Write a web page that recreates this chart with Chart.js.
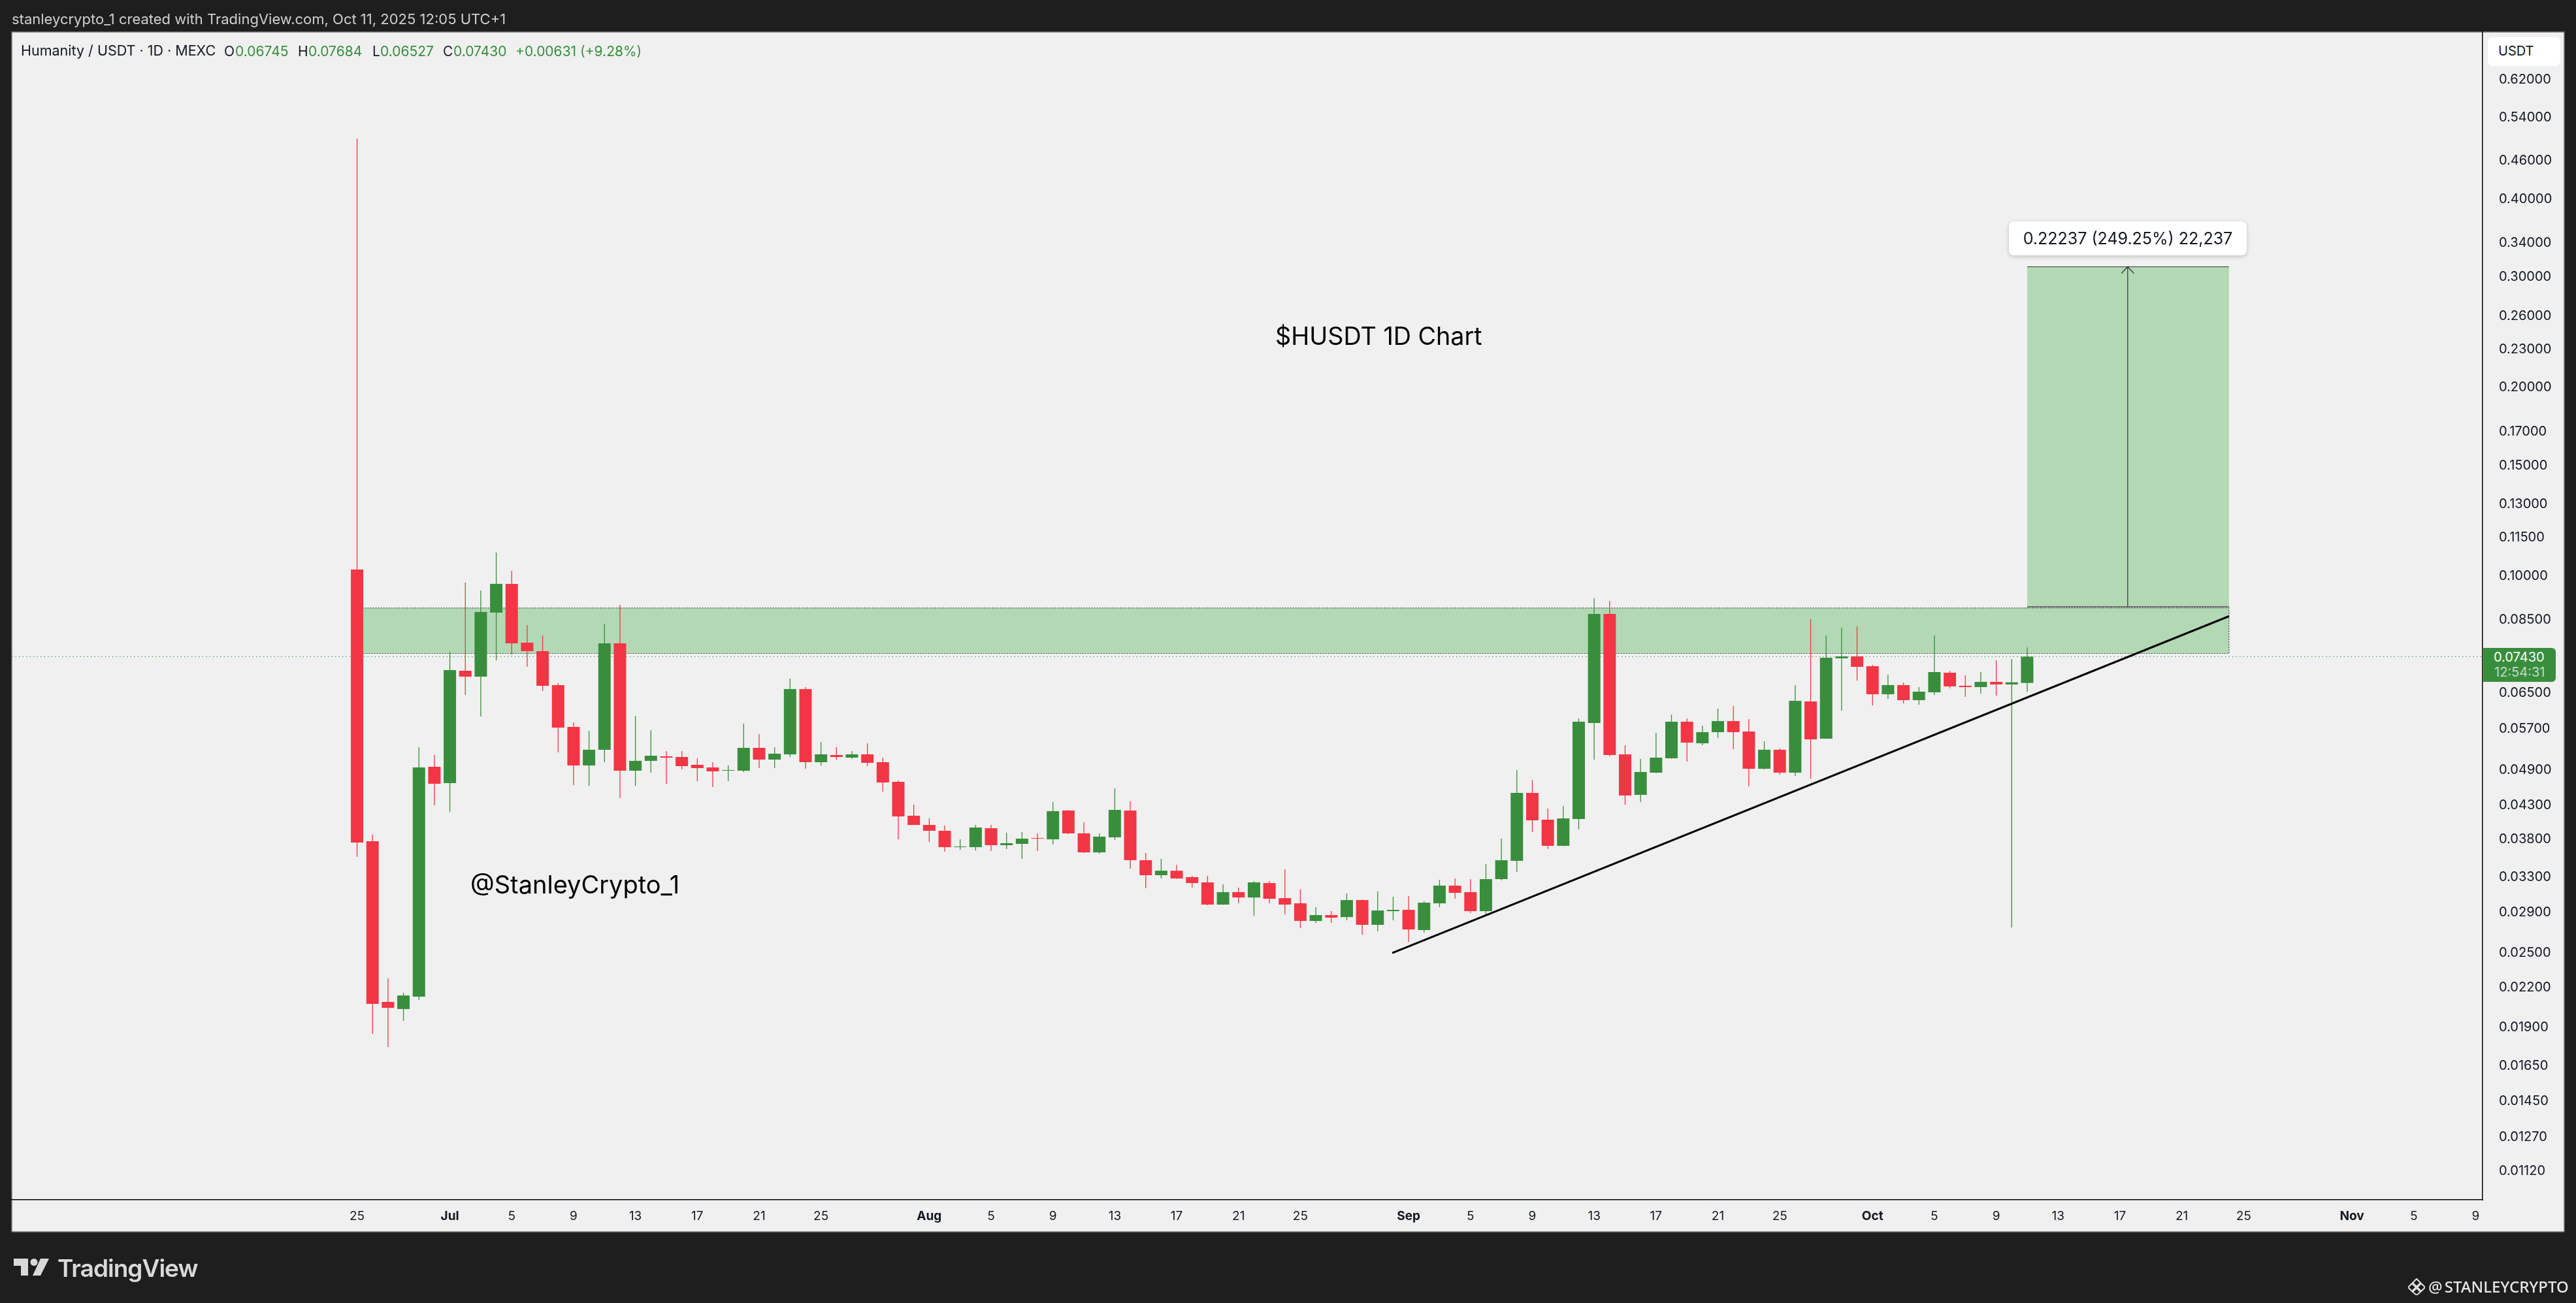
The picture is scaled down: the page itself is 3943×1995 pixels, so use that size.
<!DOCTYPE html>
<html>
<head>
<meta charset="utf-8">
<title>$HUSDT 1D Chart</title>
<script src="https://cdn.jsdelivr.net/npm/chart.js@4/dist/chart.umd.min.js"></script>
<style>
  html, body { margin: 0; padding: 0; background: #1e1e1e; width: 3943px; height: 1995px; overflow: hidden; }
  canvas { position: absolute; left: 0; top: 0; }
  .t { position: absolute; white-space: nowrap; font-family: Inter, sans-serif; line-height: 1; transform: translateY(-50%); color: #131722; }
  .g { color: #388e3c; }
  .box { position: absolute; box-sizing: border-box; }
</style>
</head>
<body>
<canvas id="myChart" width="3943" height="1995"></canvas>

<div class="t" style="left:18px;top:29px;font-size:22px;color:#cfcfcf">stanleycrypto_1 created with TradingView.com, Oct 11, 2025 12:05 UTC+1</div>

<div class="t" style="left:32px;top:78px;font-size:21.5px">Humanity / USDT · 1D · MEXC</div>
<div class="t" style="left:343px;top:78px;font-size:21px">O</div>
<div class="t g" style="left:360px;top:78px;font-size:21px">0.06745</div>
<div class="t" style="left:456px;top:78px;font-size:21px">H</div>
<div class="t g" style="left:472px;top:78px;font-size:21px">0.07684</div>
<div class="t" style="left:570px;top:78px;font-size:21px">L</div>
<div class="t g" style="left:582px;top:78px;font-size:21px">0.06527</div>
<div class="t" style="left:678px;top:78px;font-size:21px">C</div>
<div class="t g" style="left:694px;top:78px;font-size:21px">0.07430</div>
<div class="t g" style="left:789px;top:78px;font-size:21px">+0.00631 (+9.28%)</div>

<div class="box" style="left:3808px;top:57px;width:111px;height:44px;background:#fff;border-radius:8px"></div>
<div class="t" style="left:3824px;top:78px;font-size:20px">USDT</div>

<div class="box" style="left:3801px;top:992px;width:111px;height:52px;background:#388e3c;border-radius:0 6px 6px 0"></div>
<div class="t" style="left:3817px;top:1006px;font-size:20px;color:#fff">0.07430</div>
<div class="t" style="left:3818px;top:1029px;font-size:20px;color:#c3d9c4">12:54:31</div>

<div class="box" style="left:3075px;top:339px;width:364px;height:52px;background:#fff;border-radius:8px;box-shadow:0 2px 6px rgba(0,0,0,.2)"></div>
<div class="t" style="left:3075px;width:364px;text-align:center;top:365px;font-size:25px">0.22237 (249.25%) 22,237</div>

<div class="t" style="left:1952px;top:515px;font-size:37.7px;color:#000">$HUSDT 1D Chart</div>
<div class="t" style="left:720px;top:1354px;font-size:38px;color:#000">@StanleyCrypto_1</div>

<svg style="position:absolute;left:21px;top:1927px" width="56" height="27" viewBox="0 0 56 27">
  <path d="M0 0H22V26H11V11H0Z M54 0H41L29 26H41Z" fill="#d9d9d9"/>
  <circle cx="31" cy="5.5" r="5.5" fill="#d9d9d9"/>
</svg>
<div class="t" style="left:88px;top:1941px;font-size:37px;font-weight:600;color:#d9d9d9;letter-spacing:-1px">TradingView</div>

<svg style="position:absolute;left:3686px;top:1957px" width="26" height="26" viewBox="0 0 26 26">
  <path d="M13 1L19 7L13 13L7 7Z M6 8L12 14L6 20L0 14Z M20 8L26 14L20 20L14 14Z M13 15L19 21L13 26L7 21Z" fill="none" stroke="#e0e0e0" stroke-width="2"/>
</svg>
<div class="t" style="left:3717px;top:1970px;font-size:24px;font-family:'Noto Sans',sans-serif;font-weight:500;color:#e6e6e6;word-spacing:-3px">@ STANLEYCRYPTO</div>

<script>
// daily candles, index 0 = Jun 25 2025
const opens = [
  0.10236,0.03768,0.02087,0.02033,0.02127,0.04955,0.04666,0.07053,0.06903,0.08736,
  0.09709,0.07821,0.07580,0.06691,0.05737,0.04979,0.05275,0.07803,0.04884,0.05064,
  0.05149,0.05137,0.04991,0.04943,0.04884,0.04884,0.05313,0.05088,0.05187,0.06596,
  0.05039,0.05174,0.05125,0.05187,0.05039,0.04688,0.04139,0.04001,0.03916,0.03687,
  0.03687,0.03953,0.03714,0.03732,0.03813,0.03795,0.04219,0.03879,0.03617,0.03823,
  0.04219,0.03514,0.03326,0.03381,0.03302,0.03239,0.02985,0.03125,0.03064,0.03231,
  0.03057,0.02999,0.02811,0.02872,0.02851,0.03035,0.02771,0.02914,0.02928,0.02718,
  0.02999,0.03201,0.03125,0.02914,0.03278,0.03506,0.04501,0.04079,0.03705,0.04088,
  0.05820,0.08693,0.05187,0.04469,0.04849,0.05113,0.05849,0.05403,0.05628,0.05862,
  0.05642,0.04919,0.05275,0.04849,0.06301,0.05495,0.07383,0.07436,0.07173,0.06469,
  0.06691,0.06331,0.06516,0.07003,0.06675,0.06643,0.06771,0.06707,0.06745
]
const highs = [
  0.49960,0.03860,0.02275,0.02158,0.05325,0.05174,0.07563,0.09756,0.09478,0.10896,
  0.10186,0.08345,0.08031,0.06739,0.05834,0.05655,0.08386,0.08990,0.05976,0.05669,
  0.05249,0.05249,0.05113,0.05039,0.04979,0.05807,0.05588,0.05325,0.06853,0.06643,
  0.05429,0.05325,0.05249,0.05403,0.05125,0.04711,0.04310,0.04098,0.03991,0.03795,
  0.04001,0.04001,0.03888,0.03897,0.03879,0.04353,0.04229,0.04040,0.03879,0.04577,
  0.04363,0.03609,0.03531,0.03455,0.03318,0.03318,0.03216,0.03178,0.03255,0.03255,
  0.03398,0.03155,0.02956,0.02914,0.03110,0.03042,0.03132,0.03072,0.03079,0.03021,
  0.03270,0.03286,0.03278,0.03464,0.03804,0.04896,0.04722,0.04249,0.04289,0.05919,
  0.09209,0.09121,0.05364,0.05100,0.05615,0.06005,0.05919,0.05765,0.06137,0.06196,
  0.05905,0.05442,0.05300,0.06691,0.08528,0.08031,0.08266,0.08305,0.07208,0.06953,
  0.06756,0.06643,0.08031,0.07053,0.06936,0.07020,0.07330,0.07365,0.07684
]
const lows = [
  0.03557,0.01855,0.01768,0.01946,0.02102,0.04300,0.04199,0.06453,0.05962,0.07330,
  0.07490,0.07156,0.06548,0.05224,0.04633,0.04621,0.05039,0.04416,0.04621,0.04849,
  0.04655,0.04908,0.04700,0.04600,0.04700,0.04861,0.04931,0.04931,0.05137,0.04919,
  0.04979,0.05088,0.05100,0.04967,0.04523,0.03795,0.04001,0.03759,0.03626,0.03652,
  0.03643,0.03635,0.03661,0.03531,0.03635,0.03723,0.03869,0.03609,0.03600,0.03786,
  0.03406,0.03170,0.03286,0.03280,0.03178,0.02978,0.02983,0.02999,0.02865,0.02999,
  0.02879,0.02737,0.02791,0.02791,0.02817,0.02673,0.02705,0.02817,0.02602,0.02692,
  0.02956,0.03050,0.02893,0.02872,0.03263,0.03365,0.03897,0.03661,0.03700,0.03935,
  0.05088,0.05149,0.04310,0.04353,0.04840,0.05105,0.05052,0.05364,0.05508,0.05287,
  0.04610,0.04908,0.04814,0.04791,0.04745,0.05490,0.06093,0.06804,0.06211,0.06362,
  0.06256,0.06226,0.06453,0.06611,0.06407,0.06485,0.06438,0.02744,0.06527
]
const closes = [
  0.03750,0.02072,0.02042,0.02137,0.04943,0.04655,0.07070,0.06903,0.08756,0.09709,
  0.07803,0.07580,0.06675,0.05724,0.04979,0.05275,0.07803,0.04884,0.05064,0.05161,
  0.05125,0.04967,0.04931,0.04872,0.04896,0.05313,0.05088,0.05199,0.06596,0.05039,
  0.05187,0.05137,0.05187,0.05028,0.04677,0.04128,0.04001,0.03916,0.03687,0.03696,
  0.03963,0.03714,0.03741,0.03804,0.03804,0.04209,0.03879,0.03617,0.03832,0.04229,
  0.03514,0.03326,0.03381,0.03286,0.03231,0.02985,0.03125,0.03064,0.03239,0.03050,
  0.02985,0.02811,0.02872,0.02845,0.03035,0.02771,0.02921,0.02928,0.02724,0.03006,
  0.03201,0.03117,0.02914,0.03278,0.03514,0.04501,0.04069,0.03705,0.04098,0.05849,
  0.08693,0.05174,0.04459,0.04861,0.05125,0.05849,0.05416,0.05628,0.05862,0.05628,
  0.04919,0.05275,0.04849,0.06316,0.05482,0.07400,0.07436,0.07156,0.06469,0.06691,
  0.06331,0.06532,0.07020,0.06659,0.06643,0.06771,0.06707,0.06760,0.07430
]

const priceTicks = [0.62,0.54,0.46,0.40,0.34,0.30,0.26,0.23,0.20,0.17,0.15,0.13,0.115,0.10,0.085,0.065,0.057,0.049,0.043,0.038,0.033,0.029,0.025,0.022,0.019,0.0165,0.0145,0.0127,0.0112]
const dayTicks = [0,6,10,14,18,22,26,30,37,41,45,49,53,57,61,68,72,76,80,84,88,92,98,102,106,110,114,118,122,129,133,137]
const dayLabels = ['25','Jul','5','9','13','17','21','25','Aug','5','9','13','17','21','25','Sep','5','9','13','17','21','25','Oct','5','9','13','17','21','25','Nov','5','9']
const monthLabels = ['Jul','Aug','Sep','Oct','Nov']

// drawings on the chart
const zoneDays = [0, 121.05]
const zonePrices = [0.07517, 0.08884]
const targetDays = [108, 121.05]
const targetPrices = [0.08922, 0.31159]
const arrowDay = 114.5
const trendDays = [66.94, 121.05]
const trendPrices = [0.02498, 0.0862]
const lastPrice = 0.0743

const UP = '#388e3c'
const DOWN = '#f23645'
const ZONE = '#b2d8b4'
const xMin = -22.33
const xMax = 137.45

const days = opens.map((v, i) => i)
const colors = days.map(i => closes[i] >= opens[i] ? UP : DOWN)

const drawings = {
  id: 'drawings',
  beforeDraw(chart) {
    const c = chart.ctx
    const area = chart.chartArea
    c.save()
    c.fillStyle = '#f0f0f0'
    c.fillRect(area.left, area.top, 3925 - area.left, 1886 - area.top)
    c.strokeStyle = '#777777'
    c.lineWidth = 1.5
    c.strokeRect(area.left, area.top, 3925 - area.left, 1886 - area.top)
    c.restore()
  },
  beforeDatasetsDraw(chart) {
    const c = chart.ctx
    const x = chart.scales.x
    const y = chart.scales.y
    const x0 = x.getPixelForValue(zoneDays[0])
    const x1 = x.getPixelForValue(zoneDays[1])
    const yt = y.getPixelForValue(zonePrices[1])
    const yb = y.getPixelForValue(zonePrices[0])
    const tx0 = x.getPixelForValue(targetDays[0])
    const tx1 = x.getPixelForValue(targetDays[1])
    const tt = y.getPixelForValue(targetPrices[1])
    const tb = y.getPixelForValue(targetPrices[0])
    c.save()
    c.fillStyle = ZONE
    c.fillRect(x0, yt, x1 - x0, yb - yt)
    c.fillRect(tx0, tt, tx1 - tx0, tb - tt)
    c.strokeStyle = '#3d4a3e'
    c.lineWidth = 1.2
    c.setLineDash([2, 2])
    c.strokeRect(x0, yt, x1 - x0, yb - yt)
    c.setLineDash([])
    c.strokeStyle = '#333333'
    c.beginPath()
    c.moveTo(tx0, tt); c.lineTo(tx1, tt)
    c.moveTo(tx0, tb); c.lineTo(tx1, tb)
    c.stroke()
    // arrow
    const ax = x.getPixelForValue(arrowDay)
    c.beginPath()
    c.moveTo(ax, tb); c.lineTo(ax, tt)
    c.moveTo(ax - 9.5, tt + 10); c.lineTo(ax, tt); c.lineTo(ax + 9.5, tt + 10)
    c.stroke()
    c.restore()
  }
}

var ctx = document.getElementById('myChart').getContext('2d')
var myChart = new Chart(ctx, {
  type: 'bar',
  plugins: [drawings],
  data: {
    datasets: [
      {
        type: 'line',
        data: trendDays.map((d, i) => ({ x: d, y: trendPrices[i] })),
        borderColor: '#000000',
        borderWidth: 3,
        pointRadius: 0,
        order: 0
      },
      {
        label: 'body',
        data: days.map(i => ({ x: i, y: [opens[i], closes[i]] })),
        backgroundColor: colors,
        barThickness: 19,
        grouped: false,
        inflateAmount: 0,
        order: 1
      },
      {
        label: 'wick',
        data: days.map(i => ({ x: i, y: [lows[i], highs[i]] })),
        backgroundColor: colors,
        barThickness: 1.3,
        grouped: false,
        inflateAmount: 0,
        order: 2
      },
      {
        type: 'line',
        data: [{ x: xMin, y: lastPrice }, { x: xMax, y: lastPrice }],
        borderColor: UP,
        borderWidth: 1,
        borderDash: [1.5, 4],
        pointRadius: 0,
        order: 3
      }
    ]
  },
  options: {
    responsive: false,
    animation: false,
    devicePixelRatio: 1,
    layout: { padding: { left: 18, top: 49, right: 18, bottom: 109 } },
    plugins: { legend: { display: false }, tooltip: { enabled: false } },
    scales: {
      x: {
        type: 'linear',
        min: xMin,
        max: xMax,
        offset: false,
        grid: { display: false },
        border: { display: true, color: '#000000', width: 1.5 },
        afterBuildTicks: axis => { axis.ticks = dayTicks.map(v => ({ value: v })) },
        afterFit: s => { s.height = 49 },
        ticks: {
          autoSkip: false,
          maxRotation: 0,
          padding: 6,
          color: '#131722',
          font: c => {
            const label = dayLabels[dayTicks.indexOf(c.tick && c.tick.value)]
            return { family: 'Inter', size: 19, weight: monthLabels.includes(label) ? '700' : '400' }
          },
          callback: v => dayLabels[dayTicks.indexOf(v)]
        }
      },
      y: {
        type: 'logarithmic',
        position: 'right',
        min: 0.01008,
        max: 0.7389,
        grid: { display: false },
        border: { display: true, color: '#000000', width: 1.5 },
        afterBuildTicks: axis => { axis.ticks = priceTicks.map(v => ({ value: v })) },
        afterFit: s => { s.width = 125 },
        ticks: {
          autoSkip: false,
          padding: 17,
          color: '#131722',
          font: { family: 'Inter', size: 20 },
          callback: v => v.toFixed(5)
        }
      }
    }
  }
})
</script>
</body>
</html>
